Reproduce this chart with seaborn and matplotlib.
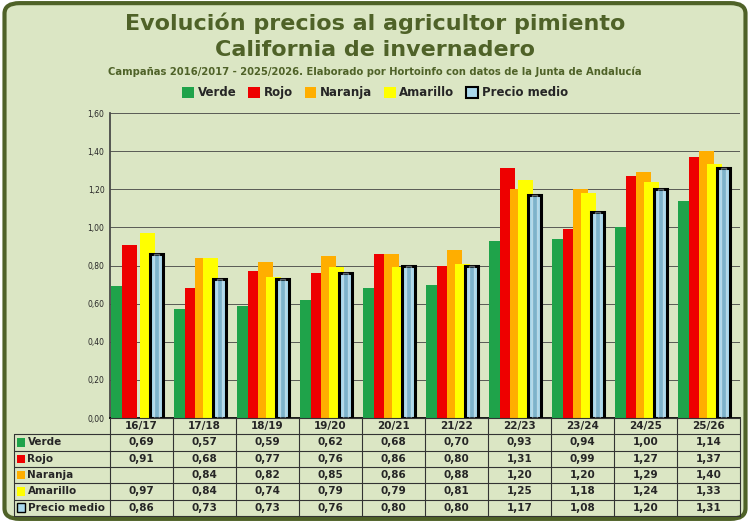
import matplotlib
matplotlib.use("Agg")
import matplotlib.pyplot as plt
import numpy as np
import seaborn as sns
from matplotlib.patches import FancyBboxPatch, Rectangle
from matplotlib.lines import Line2D

sns.set_theme(style="white")
plt.rcParams["font.family"] = ["DejaVu Sans"]

campaigns = ["16/17", "17/18", "18/19", "19/20", "20/21", "21/22", "22/23", "23/24", "24/25", "25/26"]
verde = [0.69, 0.57, 0.59, 0.62, 0.68, 0.70, 0.93, 0.94, 1.00, 1.14]
rojo = [0.91, 0.68, 0.77, 0.76, 0.86, 0.80, 1.31, 0.99, 1.27, 1.37]
naranja = [np.nan, 0.84, 0.82, 0.85, 0.86, 0.88, 1.20, 1.20, 1.29, 1.40]
amarillo = [0.97, 0.84, 0.74, 0.79, 0.79, 0.81, 1.25, 1.18, 1.24, 1.33]
medio = [0.86, 0.73, 0.73, 0.76, 0.80, 0.80, 1.17, 1.08, 1.20, 1.31]

series = [("Verde", verde, "#1fa34a"), ("Rojo", rojo, "#ee0000"),
          ("Naranja", naranja, "#ffae00"), ("Amarillo", amarillo, "#ffff00"),
          ("Precio medio", medio, "#a9d8ec")]
offsets = [-0.37, -0.19, -0.03, 0.10, 0.24]
bg = "#dbe6c4"
green = "#4f6228"

fig = plt.figure(figsize=(7.5, 5.22), dpi=100)
fig.patch.set_facecolor("white")
frame = FancyBboxPatch((0.006, 0.006), 0.988, 0.988, boxstyle="round,pad=0,rounding_size=0.02",
                       transform=fig.transFigure, facecolor=bg, edgecolor=green, lw=3, zorder=-10)
fig.patches.append(frame)

ax = fig.add_axes([0.1467, 0.1992, 0.84, 0.5843])
ax.set_zorder(1)
ax.set_facecolor(bg)
x = np.arange(len(campaigns))
for i, (name, vals, col) in enumerate(series):
    if name == "Precio medio":
        ax.bar(x + offsets[i], vals, width=0.2, color=col, edgecolor="black", lw=2.2, zorder=3 + i)
        ax.bar(x + offsets[i], vals, width=0.08, color="#2f6f8f", zorder=3 + i, alpha=0.35)
    else:
        ax.bar(x + offsets[i], vals, width=0.24, color=col, edgecolor="none", zorder=3 + i)
ax.set_xlim(-0.5, len(campaigns) - 0.5)
ax.set_ylim(0, 1.6)
ticks = np.arange(0, 1.61, 0.2)
ax.set_yticks(ticks)
ax.set_yticklabels([f"{v:.2f}".replace(".", ",") for v in ticks], fontsize=5.5)
ax.set_xticks([])
ax.grid(axis="y", color="#444444", lw=0.6, zorder=0)
ax.set_axisbelow(True)
for s in ["top", "right"]:
    ax.spines[s].set_visible(False)
ax.spines["left"].set_color("#444444")
ax.spines["bottom"].set_color("black")
ax.tick_params(axis="y", length=0, pad=4)

# data table
tx0, tx1 = 110 / 750, 740 / 750
lx0 = 14 / 750
ty_top = (522 - 418) / 522
rh = 16.3 / 522
cw = (tx1 - tx0) / len(campaigns)
lc = dict(color="#333333", lw=0.8, transform=fig.transFigure)
for r in range(7):
    y = ty_top - r * rh
    fig.add_artist(Line2D([lx0 if r > 0 else tx0, tx1], [y, y], **lc))
for c in range(len(campaigns) + 1):
    fig.add_artist(Line2D([tx0 + c * cw] * 2, [ty_top, ty_top - 6 * rh], **lc))
fig.add_artist(Line2D([lx0, lx0], [ty_top - rh, ty_top - 6 * rh], **lc))
for c, lab in enumerate(campaigns):
    fig.text(tx0 + (c + 0.5) * cw, ty_top - 0.5 * rh, lab, ha="center", va="center", fontsize=7.5, fontweight="bold")
for r, (name, vals, col) in enumerate(series):
    yc = ty_top - (r + 1.5) * rh
    fig.patches.append(Rectangle((lx0 + 0.004, yc - 0.008), 0.011, 0.016, transform=fig.transFigure,
                                 facecolor=col, edgecolor="black" if name == "Precio medio" else "none", lw=1))
    fig.text(lx0 + 0.018, yc, name, ha="left", va="center", fontsize=7.5, fontweight="bold")
    for c, v in enumerate(vals):
        if not np.isnan(v):
            fig.text(tx0 + (c + 0.5) * cw, yc, f"{v:.2f}".replace(".", ","), ha="center", va="center",
                     fontsize=7.5, fontweight="bold")

# titles
fig.text(0.5, 0.955, "Evolución precios al agricultor pimiento", ha="center", va="center",
         fontsize=16, fontweight="bold", color=green)
fig.text(0.5, 0.905, "California de invernadero", ha="center", va="center",
         fontsize=16, fontweight="bold", color=green)
fig.text(0.5, 0.862, "Campañas 2016/2017 - 2025/2026. Elaborado por Hortoinfo con datos de la Junta de Andalucía",
         ha="center", va="center", fontsize=7.2, fontweight="bold", color=green)

handles = [Rectangle((0, 0), 1, 1, facecolor=col, edgecolor="black" if n == "Precio medio" else "none", lw=1.5)
           for n, _, col in series]
fig.legend(handles, [n for n, _, _ in series], loc="center", bbox_to_anchor=(0.5, 0.822), ncol=5,
           frameon=False, handlelength=1.0, handleheight=1.0, columnspacing=1.0,
           handletextpad=0.3, prop={"weight": "bold", "size": 8.5})

fig.savefig("out.png", dpi=100)
